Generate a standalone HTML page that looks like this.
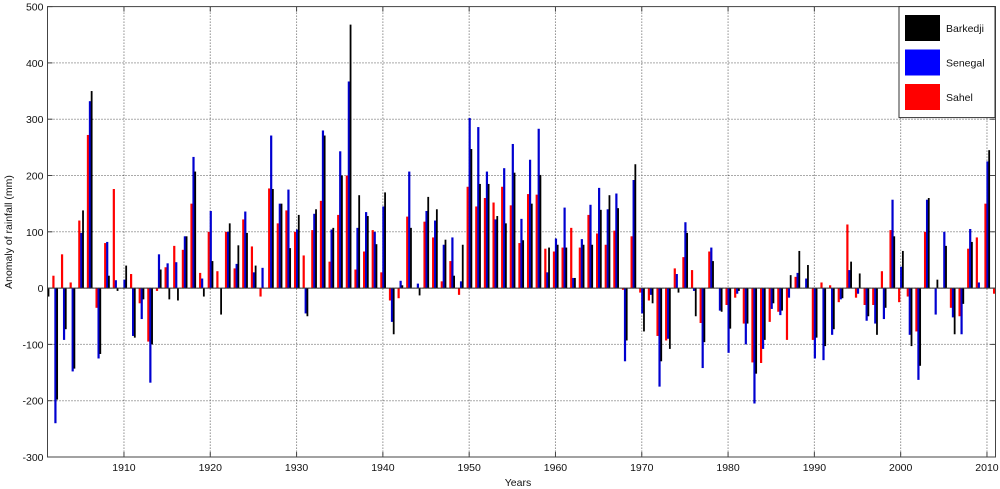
<!DOCTYPE html>
<html><head><meta charset="utf-8"><style>
html,body{margin:0;padding:0;background:#fff;}
svg{display:block;font-family:"Liberation Sans",sans-serif;}
</style></head><body>
<svg id="s" width="1000" height="489" xmlns="http://www.w3.org/2000/svg"></svg>
<script>
var D=[[0,-65,-15],[22,-240,-198],[60,-92,-73],[10,-148,-143],[120,98,138],[272,332,350],[-35,-125,-117],[80,82,22],[176,14,-5],[0,15,40],
[25,-85,-88],[-27,-55,-20],[-95,-168,-100],[-5,60,33],[37,44,-20],[75,46,-22],[68,92,92],[150,233,207],[27,17,-15],[100,137,48],
[30,0,-47],[100,100,115],[35,43,76],[122,136,98],[74,28,40],[-15,36,0],[177,271,176],[115,150,150],[138,175,71],[100,104,130],
[58,-45,-50],[103,132,140],[155,280,271],[47,104,107],[130,243,200],[200,367,468],[33,107,165],[65,135,128],[103,100,78],[28,145,170],
[-22,-60,-82],[-18,13,5],[127,207,107],[0,8,-13],[118,137,162],[90,120,140],[12,77,86],[48,90,22],[-12,12,77],[180,302,247],
[145,286,185],[160,207,185],[152,122,128],[180,213,115],[147,256,205],[80,123,85],[167,228,150],[166,283,201],[70,28,72],[65,88,77],
[72,143,72],[107,18,18],[72,87,77],[130,148,77],[97,178,139],[77,140,165],[102,168,142],[-3,-130,-93],[92,192,220],[-8,-45,-77],
[-22,-12,-27],[-85,-175,-130],[-93,-90,-108],[35,25,-8],[55,117,98],[32,-5,-50],[-62,-142,-96],[65,72,48],[0,-40,-42],[-30,-115,-72],
[-17,-10,-5],[-63,-100,-63],[-132,-205,-152],[-133,-108,-92],[-60,-37,-27],[-42,-48,-40],[-92,-17,23],[20,27,66],[0,17,41],[-92,-125,-88],
[10,-128,-103],[5,-83,-73],[-25,-20,-18],[113,32,47],[-17,-10,26],[-30,-58,-50],[-30,-63,-83],[30,-55,-35],[103,157,92],[-25,38,66],
[-15,-83,-103],[-77,-163,-138],[100,157,160],[0,-47,15],[0,100,75],[-35,-52,-82],[-50,-82,-28],[70,105,82],[90,10,0],[150,225,245],[-10,-17,0]];
var L=47.5,R=995.5,T=6.6,B=457,Y0=288.1,K=0.563;
function yv(v){return Y0-v*K;}
function xv(yr){return L-1.2+(yr-1901)*8.63;}
var h='<defs><clipPath id="c"><rect x="'+L+'" y="'+T+'" width="'+(R-L)+'" height="'+(B-T)+'"/></clipPath></defs>';
h+='<rect x="'+L+'" y="'+T+'" width="'+(R-L)+'" height="'+(B-T)+'" fill="#fff"/>';
// grid
for(var v=-200;v<=400;v+=100){var y=yv(v);h+='<line x1="'+L+'" x2="'+R+'" y1="'+y+'" y2="'+y+'" stroke="#555" stroke-width="1" stroke-dasharray="1,2"/>';}
for(var yr=1910;yr<=2010;yr+=10){var x=xv(yr);h+='<line x1="'+x+'" x2="'+x+'" y1="'+T+'" y2="'+B+'" stroke="#555" stroke-width="1" stroke-dasharray="1,2"/>';}
// bars
h+='<g clip-path="url(#c)">';
var cols=['#ff0000','#0000d0','#000000'],offs=[-2.6,-0.6,1.3],w=[2.2,2.2,1.8];
for(var s=0;s<3;s++){for(var i=0;i<D.length;i++){var v=D[i][s];if(!v)continue;var cx=xv(1901+i);var y1=yv(Math.max(v,0)),y2=yv(Math.min(v,0));
h+='<rect x="'+(cx+offs[s])+'" y="'+y1+'" width="'+w[s]+'" height="'+(y2-y1)+'" fill="'+cols[s]+'"/>';}}
h+='</g>';
h+='<line x1="'+L+'" x2="'+R+'" y1="'+Y0+'" y2="'+Y0+'" stroke="#333" stroke-width="1"/>';
// axes box
h+='<rect x="'+L+'" y="'+T+'" width="'+(R-L)+'" height="'+(B-T)+'" fill="none" stroke="#444" stroke-width="1"/>';
for(var v=-300;v<=500;v+=100){var y=yv(v);h+='<line x1="'+L+'" x2="'+(L+5)+'" y1="'+y+'" y2="'+y+'" stroke="#444"/><line x1="'+R+'" x2="'+(R-5)+'" y1="'+y+'" y2="'+y+'" stroke="#444"/>';
h+='<text x="'+(L-4)+'" y="'+(y+4)+'" font-size="10.5" text-anchor="end" fill="#111">'+v+'</text>';}
for(var yr=1910;yr<=2010;yr+=10){var x=xv(yr);h+='<line x1="'+x+'" x2="'+x+'" y1="'+B+'" y2="'+(B-5)+'" stroke="#444"/><line x1="'+x+'" x2="'+x+'" y1="'+T+'" y2="'+(T+5)+'" stroke="#444"/>';
h+='<text x="'+x+'" y="'+(B+14)+'" font-size="10.5" text-anchor="middle" fill="#111">'+yr+'</text>';}
h+='<text x="518" y="486" font-size="10.5" text-anchor="middle" fill="#111">Years</text>';
h+='<text transform="translate(12,232) rotate(-90)" font-size="10.5" text-anchor="middle" fill="#111">Anomaly of rainfall (mm)</text>';
// legend
h+='<rect x="899" y="6.6" width="96" height="111" fill="#fff" stroke="#333"/>';
var ln=[['Barkedji','#000'],['Senegal','#0000ff'],['Sahel','#ff0000']];
for(var j=0;j<3;j++){var yy=15+j*34.5;h+='<rect x="905" y="'+yy+'" width="35" height="26" fill="'+ln[j][1]+'"/><text x="946" y="'+(yy+17)+'" font-size="10.5" fill="#111">'+ln[j][0]+'</text>';}
document.getElementById('s').innerHTML=h;
</script>
</body></html>
